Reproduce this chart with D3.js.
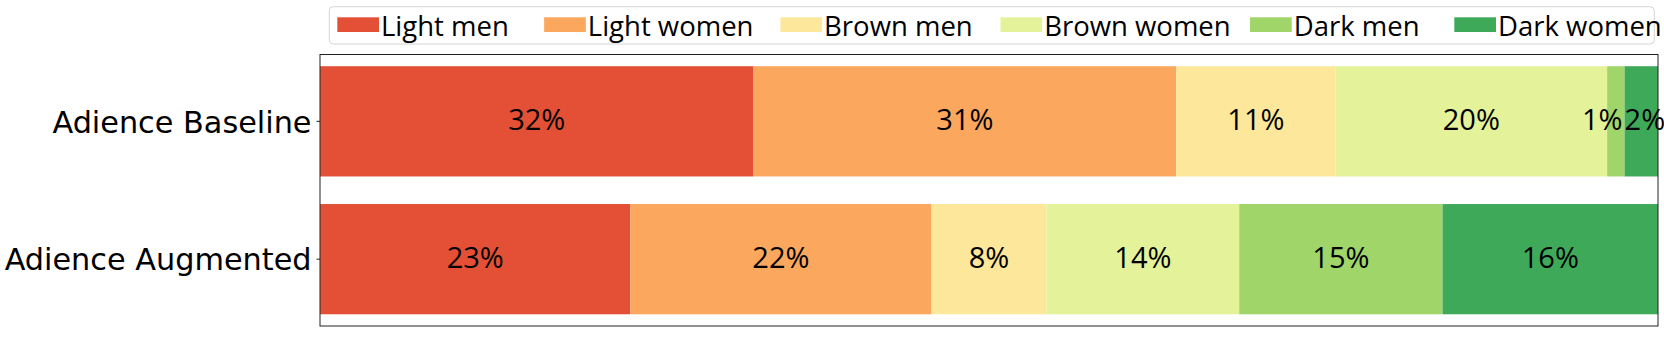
<!DOCTYPE html>
<html>
<head>
<meta charset="utf-8">
<script src="https://cdn.jsdelivr.net/npm/d3@7"></script>
<style>
  html, body { margin: 0; padding: 0; background: #fff; }
  svg { display: block; }
</style>
</head>
<body>
<svg id="chart" width="1664" height="337"></svg>
<script>
// ---- data ----
const categories = ["Adience Baseline", "Adience Augmented"];
const seriesNames = ["Light men", "Light women", "Brown men", "Brown women", "Dark men", "Dark women"];
const baselineValues = [32.4, 31.6, 11.9, 20.3, 1.3, 2.5];
const augmentedValues = [23.2, 22.5, 8.6, 14.4, 15.2, 16.1];
const xDomain = [0, 100];

// ---- styles ----
const colors = ["#e45036", "#fba85e", "#fde79a", "#e4f29a", "#a0d56a", "#3fa95a"];

const W = 1664, H = 337;
const plot = { left: 320, right: 1658, top: 54.5, bottom: 326 };

const svg = d3.select("#chart");

const rows = [baselineValues, augmentedValues].map((vals, i) => {
  const r = { category: categories[i] };
  seriesNames.forEach((s, j) => r[s] = vals[j]);
  return r;
});

const stack = d3.stack().keys(seriesNames);
const layers = stack(rows);

const x = d3.scaleLinear().domain(xDomain).range([plot.left, plot.right]);
const y = d3.scaleBand().domain(categories).range([plot.top, plot.bottom])
  .paddingInner(0.2).paddingOuter(0.085);

// bars
const g = svg.append("g");
layers.forEach((layer, j) => {
  g.selectAll(null).data(layer).enter().append("rect")
    .attr("x", d => x(d[0]))
    .attr("y", d => y(d.data.category))
    .attr("width", d => x(d[1]) - x(d[0]))
    .attr("height", y.bandwidth())
    .attr("fill", colors[j]);
});

// value labels
const narrow = 4;
layers.forEach((layer, j) => {
  layer.forEach((d, i) => {
    const v = d[1] - d[0];
    const isNarrow = v < narrow;
    const nextNarrow = j < layers.length - 1 && (layers[j + 1][i][1] - layers[j + 1][i][0]) < narrow;
    const prevNarrow = j > 0 && (layers[j - 1][i][1] - layers[j - 1][i][0]) < narrow;
    let tx = x((d[0] + d[1]) / 2), anchor = "middle";
    if (isNarrow && nextNarrow) { tx = x(d[1]) - 2; anchor = "end"; }
    else if (isNarrow && prevNarrow) { tx = x(d[0]); anchor = "start"; }
    g.append("text")
      .attr("x", tx)
      .attr("y", y(d.data.category) + y.bandwidth() / 2)
      .attr("dy", "0.3em")
      .attr("text-anchor", anchor)
      .style("font-family", "'Open Sans'")
      .style("font-size", "29px")
      .attr("fill", "#000")
      .text(Math.floor(v) + "%");
  });
});

// y axis
const yAxis = d3.axisLeft(y).tickSize(3.5).tickPadding(5);
const ya = svg.append("g").attr("transform", `translate(${plot.left},0)`).call(yAxis);
ya.select(".domain").remove();
ya.selectAll(".tick line").attr("stroke", "#222").attr("stroke-width", 1);
ya.selectAll(".tick text")
  .style("font-family", "'DejaVu Sans'")
  .style("font-size", "30.3px")
  .attr("fill", "#000")
  .attr("dy", "0.37em");

// frame
svg.append("rect")
  .attr("x", plot.left).attr("y", plot.top)
  .attr("width", plot.right - plot.left).attr("height", plot.bottom - plot.top)
  .attr("fill", "none").attr("stroke", "#222").attr("stroke-width", 1);

// legend
const legend = svg.append("g");
legend.append("rect")
  .attr("x", 329.3).attr("y", 6.7).attr("width", 1325).attr("height", 37.3)
  .attr("rx", 4).attr("fill", "#fff").attr("stroke", "#d4d4d4").attr("stroke-width", 1);

const meas = svg.append("text").style("font-family", "'DejaVu Sans'").style("font-size", "20.6px").attr("opacity", 0);
let px = 337.3;
const patchW = 41.7;
seriesNames.forEach((name, j) => {
  legend.append("rect")
    .attr("x", px).attr("y", 17.3).attr("width", patchW).attr("height", 14.7)
    .attr("fill", colors[j]);
  legend.append("text")
    .attr("x", px + patchW + 2).attr("y", 36)
    .style("font-family", "'Open Sans'").style("font-size", "27.5px")
    .attr("fill", "#000")
    .text(name);
  const w = meas.text(name).node().getComputedTextLength();
  px += w + 103.1;
});
meas.remove();
</script>
</body>
</html>
